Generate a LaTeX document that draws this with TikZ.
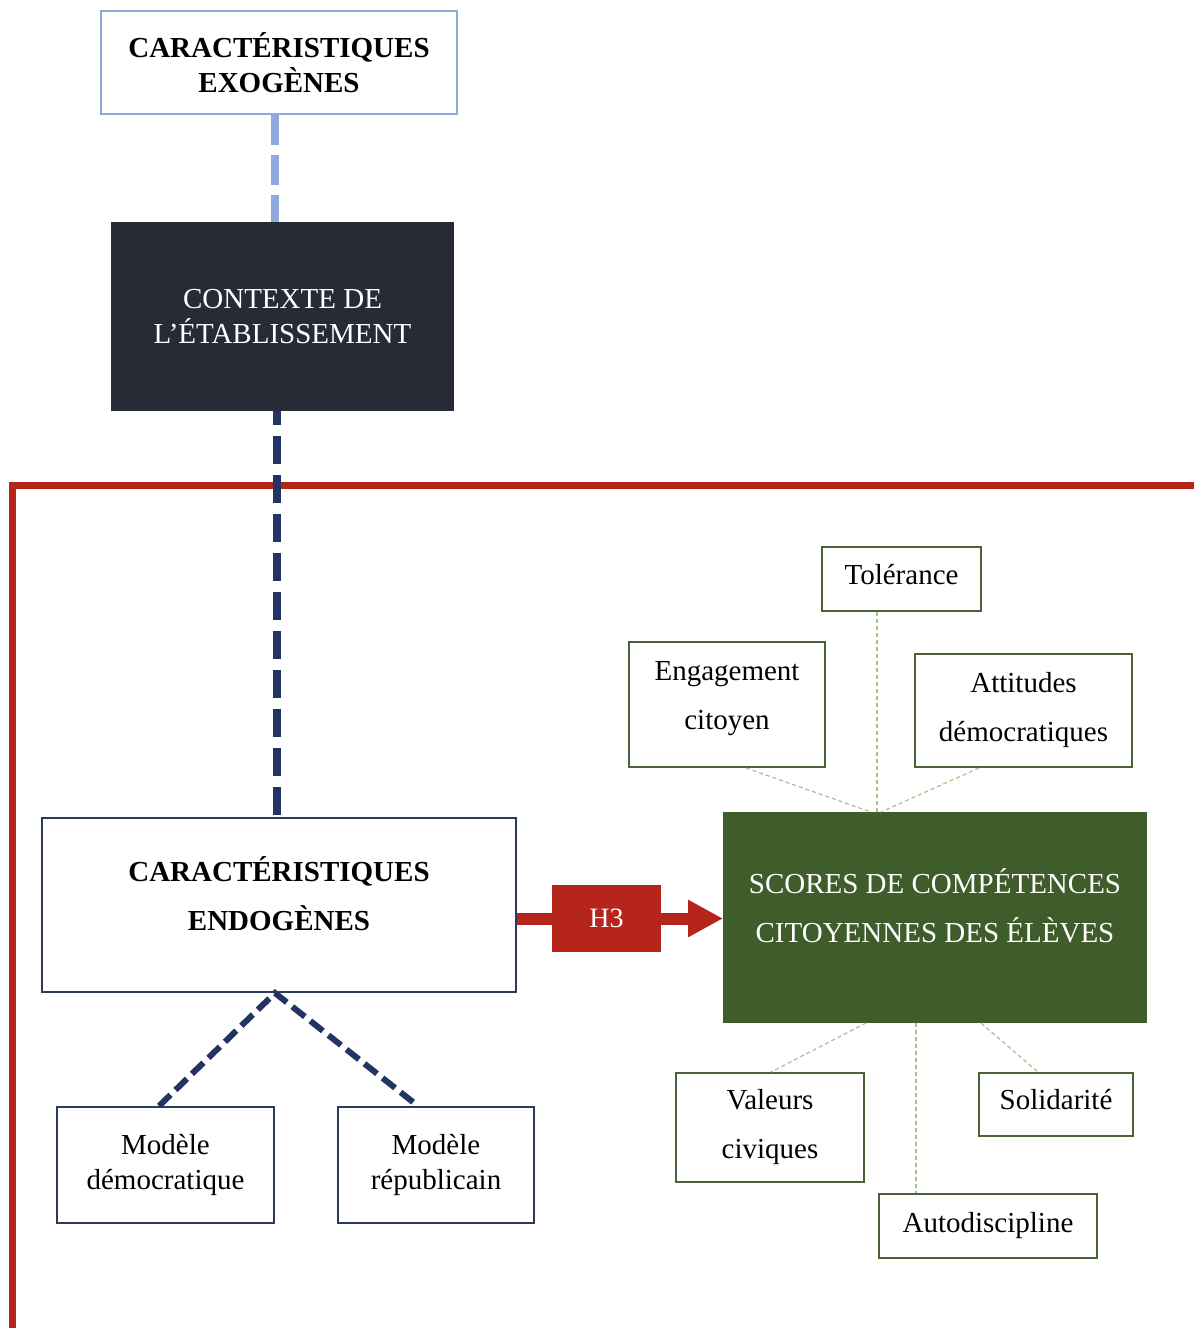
\documentclass[tikz,border=0pt]{standalone}
\usepackage{fontspec}
\setmainfont{Liberation Serif}
\usetikzlibrary{arrows.meta}
\definecolor{lblue}{HTML}{8EA9DB}
\definecolor{ctxfill}{HTML}{262B36}
\definecolor{navy}{HTML}{223463}
\definecolor{navyb}{HTML}{2C3A5C}
\definecolor{redc}{HTML}{B5251B}
\definecolor{greenf}{HTML}{3F5C2B}
\definecolor{greenb}{HTML}{4A6237}
\definecolor{lgreen}{HTML}{A8C18C}
\tikzset{
  box/.style={draw, inner sep=0pt, anchor=north west, align=center, line width=2pt},
  fnt/.style={font=\fontsize{29}{35}\selectfont},
  fntwide/.style={font=\fontsize{29}{49}\selectfont},
  leaf/.style={box, draw=greenb, fntwide},
  model/.style={box, draw=navyb, fnt},
  thinlink/.style={draw=lgreen, line width=1.2pt, dash pattern=on 4pt off 3pt},
  navylink/.style={draw=navy, line width=6pt, dash pattern=on 16pt off 7pt},
}
\begin{document}
\begin{tikzpicture}[x=1pt,y=-1pt]
\useasboundingbox[fill=white] (0,0) rectangle (1194,1328);

% red frame
\draw[redc, line width=7pt, line join=miter] (12,1340) -- (12,485) -- (1200,485);

% top boxes
\node[box, draw=lblue, fnt, minimum width=356pt, minimum height=103pt] (exo) at (100,10)
  {\bfseries CARACTÉRISTIQUES\\\bfseries EXOGÈNES};
\node[box, draw=ctxfill, fill=ctxfill, text=white, fnt, minimum width=341pt, minimum height=187pt] (ctx) at (111,222)
  {CONTEXTE DE\\L’ÉTABLISSEMENT};
\node[box, draw=navyb, fntwide, text depth=22pt, minimum width=474pt, minimum height=174pt] (endo) at (41,817)
  {\bfseries CARACTÉRISTIQUES\\\bfseries ENDOGÈNES};
\node[box, draw=greenf, fill=greenf, text=white, fntwide, text depth=24pt, minimum width=422pt, minimum height=209pt] (green) at (723,812)
  {SCORES DE COMPÉTENCES\\CITOYENNES DES ÉLÈVES};
\node[box, draw=redc, fill=redc, text=white, font=\fontsize{28}{34}\selectfont, minimum width=107pt, minimum height=65pt] (h3) at (552,885) {H3};

% leaves
\node[leaf, text depth=10pt, minimum width=159pt, minimum height=64pt] (tol) at (821,546) {Tolérance};
\node[leaf, text depth=18pt, minimum width=196pt, minimum height=125pt] (eng) at (628,641) {Engagement\\citoyen};
\node[leaf, minimum width=217pt, minimum height=113pt] (att) at (914,653) {Attitudes\\démocratiques};
\node[leaf, minimum width=188pt, minimum height=109pt] (val) at (675,1072) {Valeurs\\civiques};
\node[leaf, text depth=10pt, minimum width=154pt, minimum height=63pt] (sol) at (978,1072) {Solidarité};
\node[leaf, minimum width=218pt, minimum height=64pt] (auto) at (878,1193) {Autodiscipline};

% models
\node[model, minimum width=217pt, minimum height=116pt] (dem) at (56,1106) {Modèle\\démocratique};
\node[model, minimum width=196pt, minimum height=116pt] (rep) at (337,1106) {Modèle\\républicain};

% connectors
\draw[lblue, line width=8pt, dash pattern=on 30pt off 10pt] ([xshift=-4pt]exo.south) -- ([xshift=-7.5pt]ctx.north);
\draw[navy, line width=8pt, dash pattern=on 28pt off 11pt, dash phase=14pt] ([xshift=-5.5pt]ctx.south) -- ([xshift=-2pt]endo.north);
\draw[navylink] ([xshift=-6.5pt]dem.north) -- ([xshift=-4pt]endo.south) -- ([xshift=-18pt]rep.north);

\draw[redc, line width=12pt] (h3.west -| endo.east) -- (h3.west);
\draw[redc, line width=12pt, -{Triangle[length=35pt,width=35pt]}] (h3.east) -- (green.west |- h3.east);

\draw[thinlink] ([xshift=-24.5pt]tol.south) -- ([xshift=-58pt]green.north);
\draw[thinlink] ([xshift=19pt]eng.south) -- ([xshift=-64pt]green.north);
\draw[thinlink] ([xshift=-44.5pt]att.south) -- ([xshift=-54pt]green.north);
\draw[thinlink] ([xshift=-69pt]green.south) -- ([xshift=1pt]val.north);
\draw[thinlink] ([xshift=-19pt]green.south) -- ([xshift=-72pt]auto.north);
\draw[thinlink] ([xshift=46pt]green.south) -- ([xshift=-18pt]sol.north);
\end{tikzpicture}
\end{document}
